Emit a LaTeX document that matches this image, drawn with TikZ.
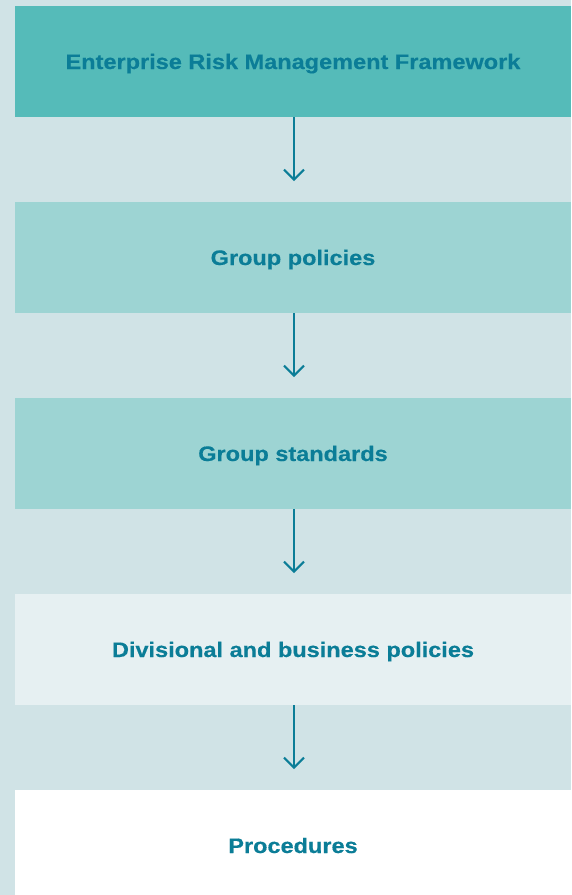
\documentclass[tikz,border=0pt]{standalone}
\usepackage{fontspec}
\setmainfont{Liberation Sans}[BoldFeatures={FakeStretch=1.12,FakeBold=0.4}]
\usetikzlibrary{arrows.meta}
\definecolor{pagebg}{HTML}{D0E3E6}
\definecolor{tierA}{HTML}{55BBB9}
\definecolor{tierB}{HTML}{9DD4D3}
\definecolor{tierC}{HTML}{E6F0F2}
\definecolor{tierD}{HTML}{FFFFFF}
\definecolor{ink}{HTML}{0B7D97}
\tikzset{
  tier/.style={minimum width=556pt, minimum height=111pt, inner sep=0pt, outer sep=0pt,
    text height=15pt, text depth=0pt,
    anchor=north west, font=\fontsize{21}{25}\selectfont\bfseries, text=ink},
  flow/.style={draw=ink, line width=2pt, -{Straight Barb[width=20pt,length=10pt,line width=2pt]}}
}
\begin{document}
\begin{tikzpicture}[x=1pt,y=-1pt]
  \fill[pagebg] (0,0) rectangle (571,895);
  \useasboundingbox (0,0) rectangle (571,895);
  \node[tier, fill=tierA] (erm) at (15,6) {Enterprise Risk Management Framework};
  \node[tier, fill=tierB] (gp) at (15,202) {Group policies};
  \node[tier, fill=tierB] (gs) at (15,398) {Group standards};
  \node[tier, fill=tierC] (dbp) at (15,594) {Divisional and business policies};
  % the last tier runs past the lower page edge
  \node[tier, fill=tierD] (proc) at (15,790) {Procedures};
  \draw[flow] ([xshift=1pt]erm.south) -- ++(0,64);
  \draw[flow] ([xshift=1pt]gp.south) -- ++(0,64);
  \draw[flow] ([xshift=1pt]gs.south) -- ++(0,64);
  \draw[flow] ([xshift=1pt]dbp.south) -- ++(0,64);
\end{tikzpicture}
\end{document}
